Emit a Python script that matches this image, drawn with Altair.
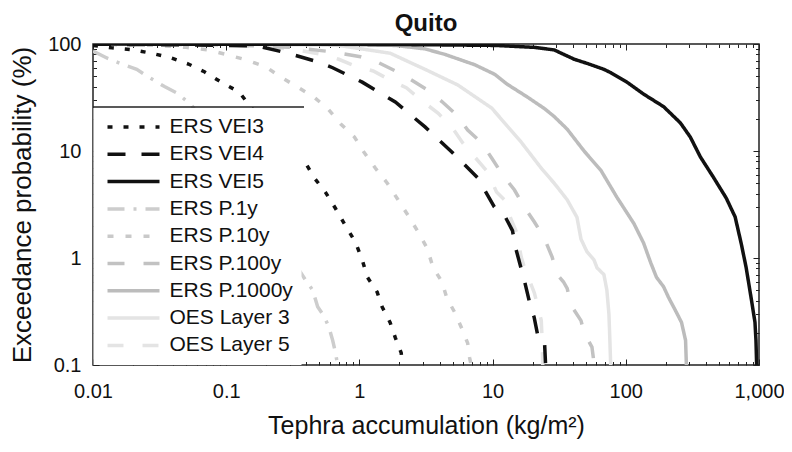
import altair as alt
import pandas as pd

# ---------------- data ----------------
series_names = ["ERS VEI3", "ERS VEI4", "ERS VEI5", "ERS P.1y", "ERS P.10y",
                "ERS P.100y", "ERS P.1000y", "OES Layer 3", "OES Layer 5"]
series_colors = ["#111111", "#111111", "#111111", "#cdcdcd", "#c9c9c9",
                 "#c2c2c2", "#bcbcbc", "#e4e4e4", "#e4e4e4"]
series_dashes = [[5, 11], [18, 16], [1, 0], [17, 9, 3, 9], [6, 12],
                 [17, 19], [1, 0], [1, 0], [16, 19]]
draw_order = ["OES Layer 5", "OES Layer 3", "ERS P.1y", "ERS P.10y",
              "ERS P.100y", "ERS P.1000y", "ERS VEI3", "ERS VEI4", "ERS VEI5"]

vei3_x = [0.01, 0.0139, 0.0202, 0.0275, 0.0389, 0.052, 0.0686, 0.0918, 0.125, 0.164,
          0.395, 0.454, 0.557, 0.662, 0.787, 0.933, 1.05, 1.15, 1.36, 1.48, 1.70, 1.86, 2.06, 2.1]
vei3_y = [97, 92, 88, 82, 74, 65, 55, 44, 35.6, 23,
          7.7, 5.7, 4.1, 2.9, 2.0, 1.41, 0.96, 0.66, 0.48, 0.35, 0.25, 0.18, 0.13, 0.1]

vei4_x = [0.01, 0.06, 0.17, 0.28, 0.49, 0.63, 1.05, 1.86, 3.11, 4.94, 7.73, 10.3, 11.5,
          12.5, 14.1, 15.0, 17.3, 19.5, 20.5, 22.0, 24.5, 25.0]
vei4_y = [99.5, 98, 96, 83, 68, 60, 44, 28.7, 16.8, 9.8, 5.6, 3.0, 2.6,
          2.4, 1.8, 1.2, 0.62, 0.33, 0.28, 0.18, 0.17, 0.1]

vei5_x = [0.01, 1, 3.1, 10.4, 20.6, 29, 41, 51, 68.5, 77, 102, 136, 192, 257, 305, 363,
          454, 567, 662, 734, 800, 871, 933, 949, 960]
vei5_y = [99.8, 99.3, 98.5, 97, 93, 88, 72, 66, 58, 54, 44, 34, 26, 18.3, 13.5, 8.8,
          5.7, 3.64, 2.42, 1.38, 0.82, 0.43, 0.25, 0.17, 0.1]

p1_x = [0.01, 0.0127, 0.017, 0.0213, 0.0262, 0.0344, 0.0424, 0.0548,
        0.395, 0.446, 0.486, 0.538, 0.588, 0.63, 0.662, 0.686]
p1_y = [86, 74, 64, 58, 49, 40, 35, 27,
        0.62, 0.5, 0.35, 0.29, 0.23, 0.17, 0.13, 0.1]

p10_x = [0.01, 0.03, 0.05, 0.0735, 0.1035, 0.141, 0.199, 0.257, 0.339, 0.454, 0.577, 0.721,
         0.918, 1.09, 1.32, 1.62, 1.95, 2.32, 2.76, 3.22, 3.57, 4.16, 4.54, 5.2, 5.87, 6.5, 6.73, 6.9]
p10_y = [99.5, 97, 93, 88, 79, 71, 61, 49, 40, 32, 25, 18,
         13.5, 9.6, 6.9, 5.0, 3.5, 2.5, 1.75, 1.24, 0.82, 0.6, 0.42, 0.31, 0.22, 0.16, 0.116, 0.1]

p100_x = [0.01, 0.1, 0.3, 0.6, 1.02, 1.36, 1.86, 2.4, 3.27, 4.16, 5.38, 6.5, 8.27, 9.84,
          11.9, 14.6, 17.3, 20.6, 24.4, 28, 30.5, 34, 36.3, 38.9, 46.1, 48.6, 55.7, 58]
p100_y = [100, 98.5, 93, 85, 76, 68, 56, 47, 37, 29, 21.7, 15.7, 11.9, 8.6,
          5.97, 4.32, 3.0, 2.17, 1.54, 1.02, 0.7, 0.6, 0.52, 0.36, 0.26, 0.2, 0.147, 0.1]

p1000_x = [0.01, 0.5, 1.86, 3.11, 4.38, 7.34, 10.4, 12.9, 18.2, 24.4, 29, 36.3, 48.6, 65,
           85.7, 115, 136, 154, 170, 192, 209, 240, 262, 281, 285]
p1000_y = [100, 99.5, 97, 90, 80, 64, 52, 42, 32, 25, 21, 16, 10, 6.6,
           3.7, 2.1, 1.38, 0.9, 0.66, 0.54, 0.43, 0.31, 0.25, 0.17, 0.1]

oes3_x = [0.01, 0.2, 0.7, 1.7, 3.11, 5.48, 9.84, 16.4, 23.2, 29, 32.7, 36.3, 43, 46.1,
          51, 57.7, 60.8, 68.5, 72.1, 74.7, 75.5, 77]
oes3_y = [100, 99.5, 97, 82, 58, 41.4, 25.2, 12.1, 6.9, 5.0, 4.14, 3.5, 2.4, 1.5,
          1.15, 0.96, 0.81, 0.7, 0.5, 0.3, 0.21, 0.1]

oes5_x = [0.01, 0.1, 0.3, 0.53, 0.7, 0.97, 1.27, 1.76, 2.25, 3.0, 3.89, 4.94, 5.97, 7.34,
          9.18, 10.7, 12.7, 13.4, 15.1, 16.4, 17.3, 20.6, 21.5, 23.2, 23.5, 23.8]
oes5_y = [100, 98, 90, 80, 72, 61, 56, 45, 39, 29, 22.6, 16.8, 11.9, 8.8,
          6.37, 4.14, 3.34, 2.5, 1.75, 1.02, 0.82, 0.47, 0.38, 0.26, 0.18, 0.1]

series_data = {
    "ERS VEI3": (vei3_x, vei3_y),
    "ERS VEI4": (vei4_x, vei4_y),
    "ERS VEI5": (vei5_x, vei5_y),
    "ERS P.1y": (p1_x, p1_y),
    "ERS P.10y": (p10_x, p10_y),
    "ERS P.100y": (p100_x, p100_y),
    "ERS P.1000y": (p1000_x, p1000_y),
    "OES Layer 3": (oes3_x, oes3_y),
    "OES Layer 5": (oes5_x, oes5_y),
}

x_major = [0.01, 0.1, 1, 10, 100, 1000]
x_minor = [k * d for d in [0.01, 0.1, 1, 10, 100] for k in range(2, 10)]
y_major = [0.1, 1, 10, 100]
y_minor = [k * d for d in [0.1, 1, 10] for k in range(2, 10)]

rows = []
for s in draw_order:
    xs, ys = series_data[s]
    for i, (xv, yv) in enumerate(zip(xs, ys)):
        rows.append({"series": s, "x": xv, "y": yv, "i": i})
df = pd.DataFrame(rows)

FONT = "Liberation Sans"
x_scale = alt.Scale(type="log", domain=[0.01, 1000])
y_scale = alt.Scale(type="log", domain=[0.1, 100])

legend = alt.Legend(
    title=None, orient="none", legendX=0.5, legendY=64,
    fillColor="white", padding=8, symbolType="stroke", symbolSize=2704,
    symbolStrokeWidth=3.5, labelFontSize=21, labelFont=FONT, labelColor="#111",
    labelOffset=8, clipHeight=22, rowPadding=5.3, symbolOffset=4,
)

lines = alt.Chart(df).mark_line(clip=True, strokeWidth=3.5, strokeCap="butt").encode(
    x=alt.X("x:Q", scale=x_scale,
            axis=alt.Axis(orient="bottom", values=x_major, format=",", tickSize=6,
                          offset=-6, labelPadding=16, labelFlush=False, labelOverlap=False,
                          title="Tephra accumulation (kg/m²)", titlePadding=12,
                          titleFontSize=25)),
    y=alt.Y("y:Q", scale=y_scale,
            axis=alt.Axis(orient="left", values=y_major, format=",", tickSize=6,
                          offset=-6, labelPadding=12, labelFlush=False, labelOverlap=False,
                          title="Exceedance probability (%)", titlePadding=12)),
    color=alt.Color("series:N", scale=alt.Scale(domain=series_names, range=series_colors),
                    legend=legend),
    strokeDash=alt.StrokeDash("series:N",
                              scale=alt.Scale(domain=series_names, range=series_dashes),
                              legend=legend),
    order=alt.Order("i:Q"),
)


def ghost(xorient, xvals, xsize, yorient, yvals, ysize):
    return alt.Chart(df).mark_point(opacity=0, size=1).encode(
        x=alt.X("x:Q", scale=x_scale,
                axis=alt.Axis(orient=xorient, values=xvals, tickSize=xsize, offset=-xsize,
                              labels=False, title=None)),
        y=alt.Y("y:Q", scale=y_scale,
                axis=alt.Axis(orient=yorient, values=yvals, tickSize=ysize, offset=-ysize,
                              labels=False, title=None)),
    )


minor1 = ghost("bottom", x_minor, 3.5, "left", y_minor, 3.5)
major2 = ghost("top", x_major, 6, "right", y_major, 6)
minor2 = ghost("top", x_minor, 3.5, "right", y_minor, 3.5)

legend_top = alt.Chart(pd.DataFrame({"a": [0]})).mark_rule(color="#222", strokeWidth=1.5).encode(
    x=alt.value(0), x2=alt.value(211), y=alt.value(63)
)

chart = alt.layer(lines, minor1, major2, minor2, legend_top).resolve_scale(
    x="shared", y="shared"
).resolve_axis(
    x="independent", y="independent"
).properties(
    width=666, height=321,
    padding={"left": 85, "top": 36, "right": 25, "bottom": 79},
    autosize="none",
    title=alt.TitleParams("Quito", fontSize=24, fontWeight="bold", font=FONT,
                          color="#111", anchor="middle", offset=-2),
).configure_view(
    stroke="#222", strokeWidth=1.5
).configure_axis(
    domain=False, grid=False, labelFont=FONT, labelFontSize=20, labelColor="#111",
    titleFont=FONT, titleFontSize=26, titleFontWeight="normal", titleColor="#111",
    tickColor="#222", tickWidth=1
)

chart.save("out.html", embed_options={"renderer": "svg", "actions": False})
